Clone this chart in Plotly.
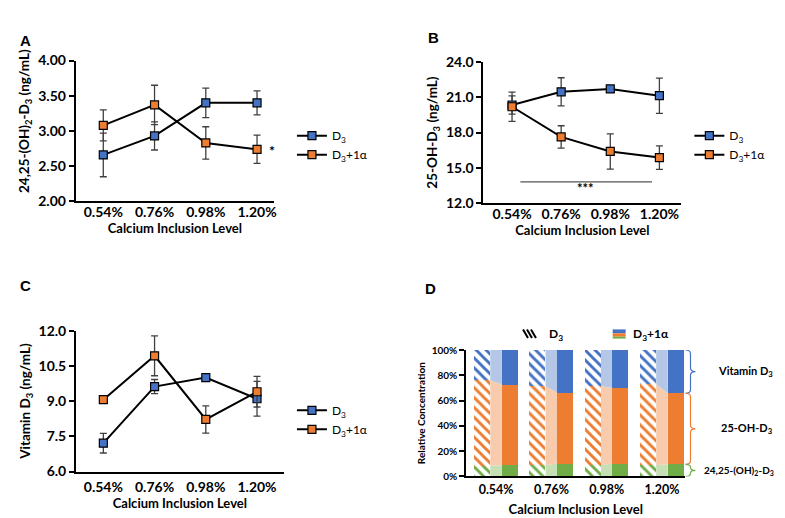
import plotly.graph_objects as go

# categories shared by every panel
levels = ["0.54%", "0.76%", "0.98%", "1.20%"]
xpos = [0, 1, 2, 3]

# A: 24,25-(OH)2-D3 (ng/mL)
a_d3 = [2.66, 2.93, 3.40, 3.40]
a_d3_err = [0.31, 0.20, 0.21, 0.17]
a_1a = [3.08, 3.37, 2.83, 2.74]
a_1a_err = [0.22, 0.28, 0.23, 0.20]

# B: 25-OH-D3 (ng/mL)
b_d3 = [20.35, 21.47, 21.72, 21.14]
b_d3_err = [0.78, 1.20, 0.15, 1.50]
b_1a = [20.20, 17.63, 16.39, 15.87]
b_1a_err = [1.25, 0.95, 1.50, 1.00]

# C: vitamin D3 (ng/mL)
c_d3 = [7.21, 9.62, 10.00, 9.10]
c_d3_err = [0.42, 0.30, 0.05, 0.74]
c_1a = [9.06, 10.93, 8.22, 9.40]
c_1a_err = [0.05, 0.85, 0.58, 0.65]

# D: relative concentration (%), bottom to top
d_d3_2425 = [8.5, 8.9, 8.9, 9.0]
d_d3_25oh = [67.5, 62.5, 62.5, 64.0]
d_d3_vitd = [24.0, 28.6, 28.6, 27.0]
d_1a_2425 = [8.9, 10.2, 10.2, 9.5]
d_1a_25oh = [63.8, 56.1, 60.0, 56.3]
d_1a_vitd = [27.3, 33.7, 29.8, 34.2]

BLUE = "#4472C4"
ORANGE = "#ED7D31"
GREEN = "#70AD47"
LIGHT = {"blue": "#B4C7E7", "orange": "#F8CBAD", "green": "#C5E0B4"}
FONT = "Lato"
D3 = "D<sub>3</sub>"
D3A = "D<sub>3</sub>+1α"

fig = go.Figure()


def add_line(ax, y, err, color, name, legend, group):
    fig.add_trace(go.Scatter(
        x=xpos, y=y, name=name, mode="lines+markers", legendgroup=group,
        line=dict(color="black", width=2),
        marker=dict(symbol="square", size=8, color=color, line=dict(color="black", width=1.2)),
        error_y=dict(type="data", array=err, color="#404040", thickness=1.3, width=3.5),
        xaxis="x" + ax, yaxis="y" + ax, legend=legend, hoverinfo="skip"))


add_line("", a_d3, a_d3_err, BLUE, D3, "legend", "a1")
add_line("", a_1a, a_1a_err, ORANGE, D3A, "legend", "a2")
add_line("2", b_d3, b_d3_err, BLUE, D3, "legend2", "b1")
add_line("2", b_1a, b_1a_err, ORANGE, D3A, "legend2", "b2")
add_line("3", c_d3, c_d3_err, BLUE, D3, "legend3", "c1")
add_line("3", c_1a, c_1a_err, ORANGE, D3A, "legend3", "c2")

bw = 0.29
for color, vals in [(GREEN, d_d3_2425), (ORANGE, d_d3_25oh), (BLUE, d_d3_vitd)]:
    fig.add_trace(go.Bar(
        x=[i - 0.25 for i in xpos], y=vals, width=bw,
        marker=dict(color="white", line=dict(width=0),
                    pattern=dict(shape="\\", fgcolor=color, bgcolor="white", size=7,
                                 solidity=0.42, fgopacity=1)),
        xaxis="x4", yaxis="y4", showlegend=False, hoverinfo="skip"))
for color, vals in [(GREEN, d_1a_2425), (ORANGE, d_1a_25oh), (BLUE, d_1a_vitd)]:
    fig.add_trace(go.Bar(
        x=[i + 0.25 for i in xpos], y=vals, width=bw,
        marker=dict(color=color, line=dict(width=0)),
        xaxis="x4", yaxis="y4", showlegend=False, hoverinfo="skip"))

# D: light connectors between the hatched (D3) and solid (D3+1a) stacks, kept under the bars
segs = [("green", d_d3_2425, d_1a_2425), ("orange", d_d3_25oh, d_1a_25oh), ("blue", d_d3_vitd, d_1a_vitd)]
base_l = [0, 0, 0, 0]
base_r = [0, 0, 0, 0]
for key, left, right in segs:
    for i in xpos:
        x0 = i - 0.25 + bw / 2
        x1 = i + 0.25 - bw / 2
        lt = base_l[i] + left[i]
        rt = base_r[i] + right[i]
        path = "M %f,%f L %f,%f L %f,%f L %f,%f Z" % (x0, base_l[i], x0, lt, x1, rt, x1, base_r[i])
        fig.add_shape(type="path", path=path, xref="x4", yref="y4", layer="below",
                      fillcolor=LIGHT[key], line=dict(width=0))
    base_l = [base_l[i] + left[i] for i in xpos]
    base_r = [base_r[i] + right[i] for i in xpos]

tick_font = dict(family=FONT, size=14, color="black", weight="bold")
title_font = dict(family=FONT, size=13, color="black", weight="bold")


def xax(domain, rng, anchor, size=14, tsize=13, lab_off=3, standoff=4):
    return dict(domain=domain, range=rng, anchor=anchor, tickvals=xpos, ticktext=levels,
                showline=True, linecolor="black", linewidth=1.5, ticks="", showgrid=False,
                zeroline=False, tickfont=dict(tick_font, size=size), ticklabelstandoff=lab_off,
                title=dict(text="Calcium Inclusion Level", font=dict(title_font, size=tsize),
                           standoff=standoff))


def yax(domain, rng, dtick, fmt, anchor, title, size=14, tsize=13.5, standoff=5, suffix=""):
    return dict(domain=domain, range=rng, dtick=dtick, tickformat=fmt, anchor=anchor,
                ticksuffix=suffix, showline=True, linecolor="black", linewidth=2,
                ticks="outside", ticklen=5, tickwidth=1.5, tickcolor="black",
                showgrid=False, zeroline=False, tickfont=dict(tick_font, size=size),
                title=dict(text=title, font=dict(title_font, size=tsize), standoff=standoff))


leg = dict(font=dict(family=FONT, size=12, color="black"), bgcolor="rgba(0,0,0,0)",
           itemwidth=30, xanchor="left", yanchor="top", tracegroupgap=0, traceorder="normal")

# leading spaces lift the panel A title a little above the axis middle, as in the original
a_title = "&nbsp;" * 6 + "24,25-(OH)<sub>2</sub>-D<sub>3</sub> (ng/mL)"

fig.update_layout(
    width=785, height=518, margin=dict(l=0, r=0, t=0, b=0),
    paper_bgcolor="white", plot_bgcolor="white", barmode="stack", bargap=0,
    xaxis=xax([0.0866, 0.3401], [-0.538, 3.33], "y", lab_off=-3),
    yaxis=yax([0.632, 0.913], [2, 4], 0.5, ".2f", "x", a_title),
    xaxis2=xax([0.608, 0.861], [-0.582, 3.446], "y2", lab_off=-3),
    yaxis2=yax([0.6288, 0.9099], [12, 24], 3, ".1f", "x2", "25-OH-D<sub>3</sub> (ng/mL)"),
    xaxis3=xax([0.087, 0.3525], [-0.533, 3.52], "y3", lab_off=2, standoff=5),
    yaxis3=yax([0.0927, 0.3739], [6, 12], 1.5, ".1f", "x3", "Vitamin D<sub>3</sub> (ng/mL)"),
    xaxis4=xax([0.586, 0.866], [-0.54, 3.42], "y4", size=12.5, tsize=13, lab_off=1, standoff=9),
    yaxis4=yax([0.083, 0.3353], [0, 100], 20, "d", "x4", "Relative Concentration",
               size=10, tsize=10, standoff=4, suffix="%"),
    legend=dict(leg, x=0.3631, y=0.792),
    legend2=dict(leg, x=0.8713, y=0.792),
    legend3=dict(leg, x=0.3631, y=0.2438, tracegroupgap=6),
)

# panel letters
for txt, x, y in [("A", 10, 13), ("B", 427, 10), ("C", 10, 278), ("D", 424, 281)]:
    fig.add_annotation(text="<b>%s</b>" % txt, x=x / 785, y=1 - y / 518, xref="paper", yref="paper",
                       showarrow=False, font=dict(family="Liberation Sans", size=15, color="black"))

# significance marks
fig.add_annotation(text="<b>*</b>", x=3.3, y=2.72, xref="x", yref="y", showarrow=False,
                   font=dict(family=FONT, size=14, color="black"))
fig.add_shape(type="line", x0=0.17, x1=2.85, y0=13.8, y1=13.8, xref="x2", yref="y2",
              line=dict(color="#555555", width=1.2))
fig.add_annotation(text="<b>***</b>", x=1.5, y=13.25, xref="x2", yref="y2", showarrow=False,
                   font=dict(family=FONT, size=13, color="black"))


# braces on panel D
def brace(y_top, y_bot, x0=0.8665, w=0.0125):
    h = y_top - y_bot
    r = min(3.0, h / 4)
    xm = x0 + w / 2
    ym = (y_top + y_bot) / 2
    return ("M %f,%f Q %f,%f %f,%f L %f,%f Q %f,%f %f,%f Q %f,%f %f,%f L %f,%f Q %f,%f %f,%f" %
            (x0, y_top, xm, y_top, xm, y_top - r, xm, ym + r, xm, ym, x0 + w, ym,
             xm, ym, xm, ym - r, xm, y_bot + r, xm, y_bot, x0, y_bot))


top_1a = [d_1a_2425[3], d_1a_2425[3] + d_1a_25oh[3], 100]
brace_parts = [
    (100, top_1a[1], BLUE, "Vitamin D<sub>3</sub>", 11, 711),
    (top_1a[1], top_1a[0], ORANGE, "25-OH-D<sub>3</sub>", 11, 714),
    (top_1a[0], 0, GREEN, "24,25-(OH)<sub>2</sub>-D<sub>3</sub>", 10, 697),
]
for yt, yb, col, lab, fs, lx in brace_parts:
    fig.add_shape(type="path", path=brace(yt, yb), xref="paper", yref="y4",
                  line=dict(color=col, width=1.2))
    fig.add_annotation(text="<b>%s</b>" % lab, x=lx / 785, y=(yt + yb) / 2, xref="paper",
                       yref="y4", xanchor="left", showarrow=False,
                       font=dict(family=FONT, size=fs, color="black"))

# panel D legend, drawn by hand (hatched and three-colour swatches)
for k in range(3):
    fig.add_shape(type="line", x0=(517 + 4 * k) / 785, x1=(522 + 4 * k) / 785,
                  y0=1 - 323 / 518, y1=1 - 332 / 518, xref="paper", yref="paper",
                  line=dict(color="black", width=2))
for c, y0, y1 in [(BLUE, 323, 327), (ORANGE, 327, 330.5), (GREEN, 330.5, 332.5)]:
    fig.add_shape(type="rect", x0=607 / 785, x1=620 / 785, y0=1 - y0 / 518, y1=1 - y1 / 518,
                  xref="paper", yref="paper", line=dict(width=0), fillcolor=c)
fig.add_annotation(text="<b>%s</b>" % D3, x=541 / 785, y=1 - 328 / 518, xref="paper", yref="paper",
                   xanchor="left", showarrow=False, font=dict(family=FONT, size=12, color="black"))
fig.add_annotation(text="<b>%s</b>" % D3A, x=625 / 785, y=1 - 328 / 518, xref="paper",
                   yref="paper", xanchor="left", showarrow=False,
                   font=dict(family=FONT, size=12, color="black"))

fig.write_html("out.html")
